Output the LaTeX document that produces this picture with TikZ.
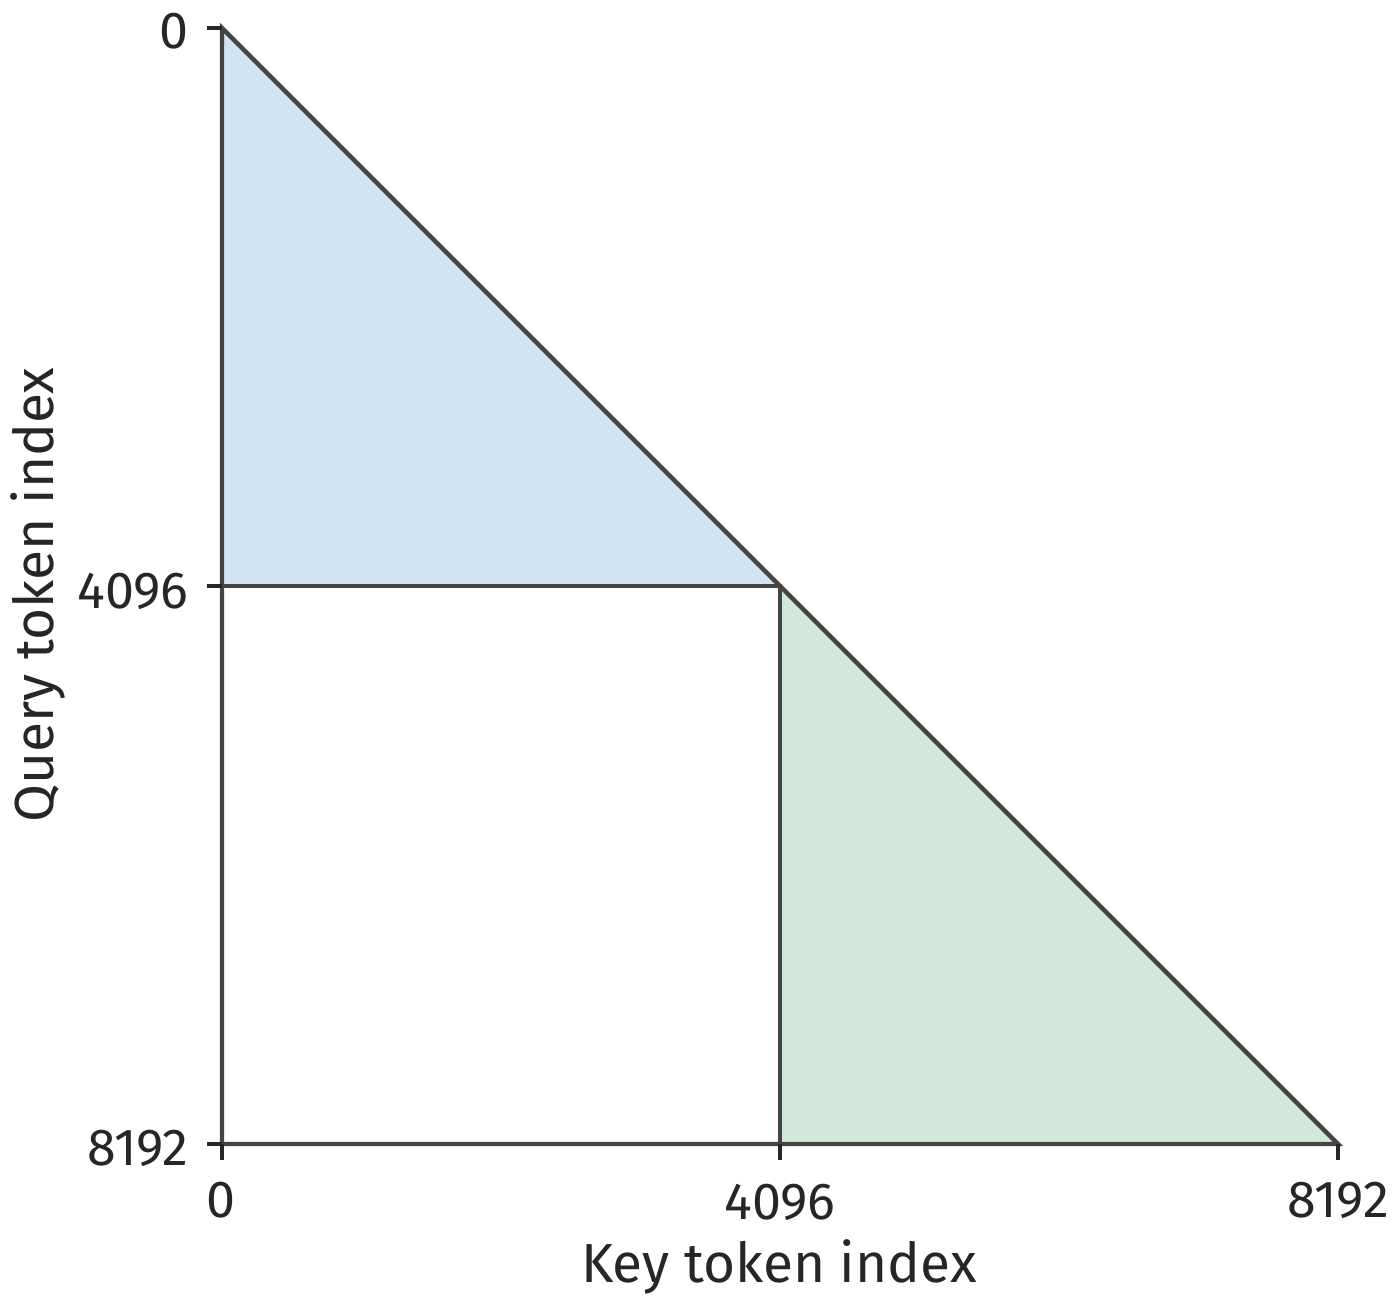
\documentclass[tikz,border=0pt]{standalone}
\usepackage{fontspec}
\setmainfont{Fira Sans}
\definecolor{edge}{HTML}{444444}
\definecolor{tickc}{HTML}{262626}
\definecolor{txt}{HTML}{262626}
\definecolor{bluefill}{HTML}{CFE3F3}
\definecolor{greenfill}{HTML}{D2E8DB}
\begin{document}
\begin{tikzpicture}[x=0.5pt,y=-0.5pt,
  edgeline/.style={draw=edge,line width=2.2pt,line join=miter},
  tickline/.style={draw=tickc,line width=2.2pt},
  ticklabel/.style={text=txt,font=\fontsize{26}{30}\selectfont,inner sep=0pt},
  axistitle/.style={text=txt,font=\fontsize{27.5}{32}\selectfont,inner sep=0pt}]
\useasboundingbox (0,0) rectangle (1400,1308);
\coordinate (O) at (222,28);
\coordinate (M) at (780,586);
\coordinate (L) at (222,586);
\coordinate (B0) at (222,1144);
\coordinate (BM) at (780,1144);
\coordinate (E) at (1338,1144);
% fills
\fill[bluefill] (O) -- (M) -- (L) -- cycle;
\fill[greenfill] (M) -- (E) -- (BM) -- cycle;
% outlines
\draw[edgeline] (O) -- (E) -- (B0) -- cycle;
\draw[edgeline] (L) -- (M) -- (BM);
% ticks
\coordinate (t0) at (207,28);
\coordinate (t1) at (207,586);
\coordinate (t2) at (207,1144);
\coordinate (b0) at (222,1160);
\coordinate (b1) at (780,1160);
\coordinate (b2) at (1338,1160);
\draw[tickline] (t0) -- (O);
\draw[tickline] (t1) -- (L);
\draw[tickline] (t2) -- (B0);
\draw[tickline] (b0) -- (B0);
\draw[tickline] (b1) -- (BM);
\draw[tickline] (b2) -- (E);
% labels
\node[ticklabel,anchor=east] (ly0) at (189,31) {0};
\node[ticklabel,anchor=east] (ly1) at (189,591) {4096};
\node[ticklabel,anchor=east] (ly2) at (189,1148) {8192};
\node[ticklabel] (lx0) at (221,1200) {0};
\node[ticklabel] (lx1) at (780,1202) {4096};
\node[ticklabel] (lx2) at (1338,1200) {8192};
\node[axistitle,anchor=base] (xt) at (779,1282) {Key token index};
\node[axistitle,rotate=90,anchor=base] (yt) at (53,595) {Query token index};
\end{tikzpicture}
\end{document}
